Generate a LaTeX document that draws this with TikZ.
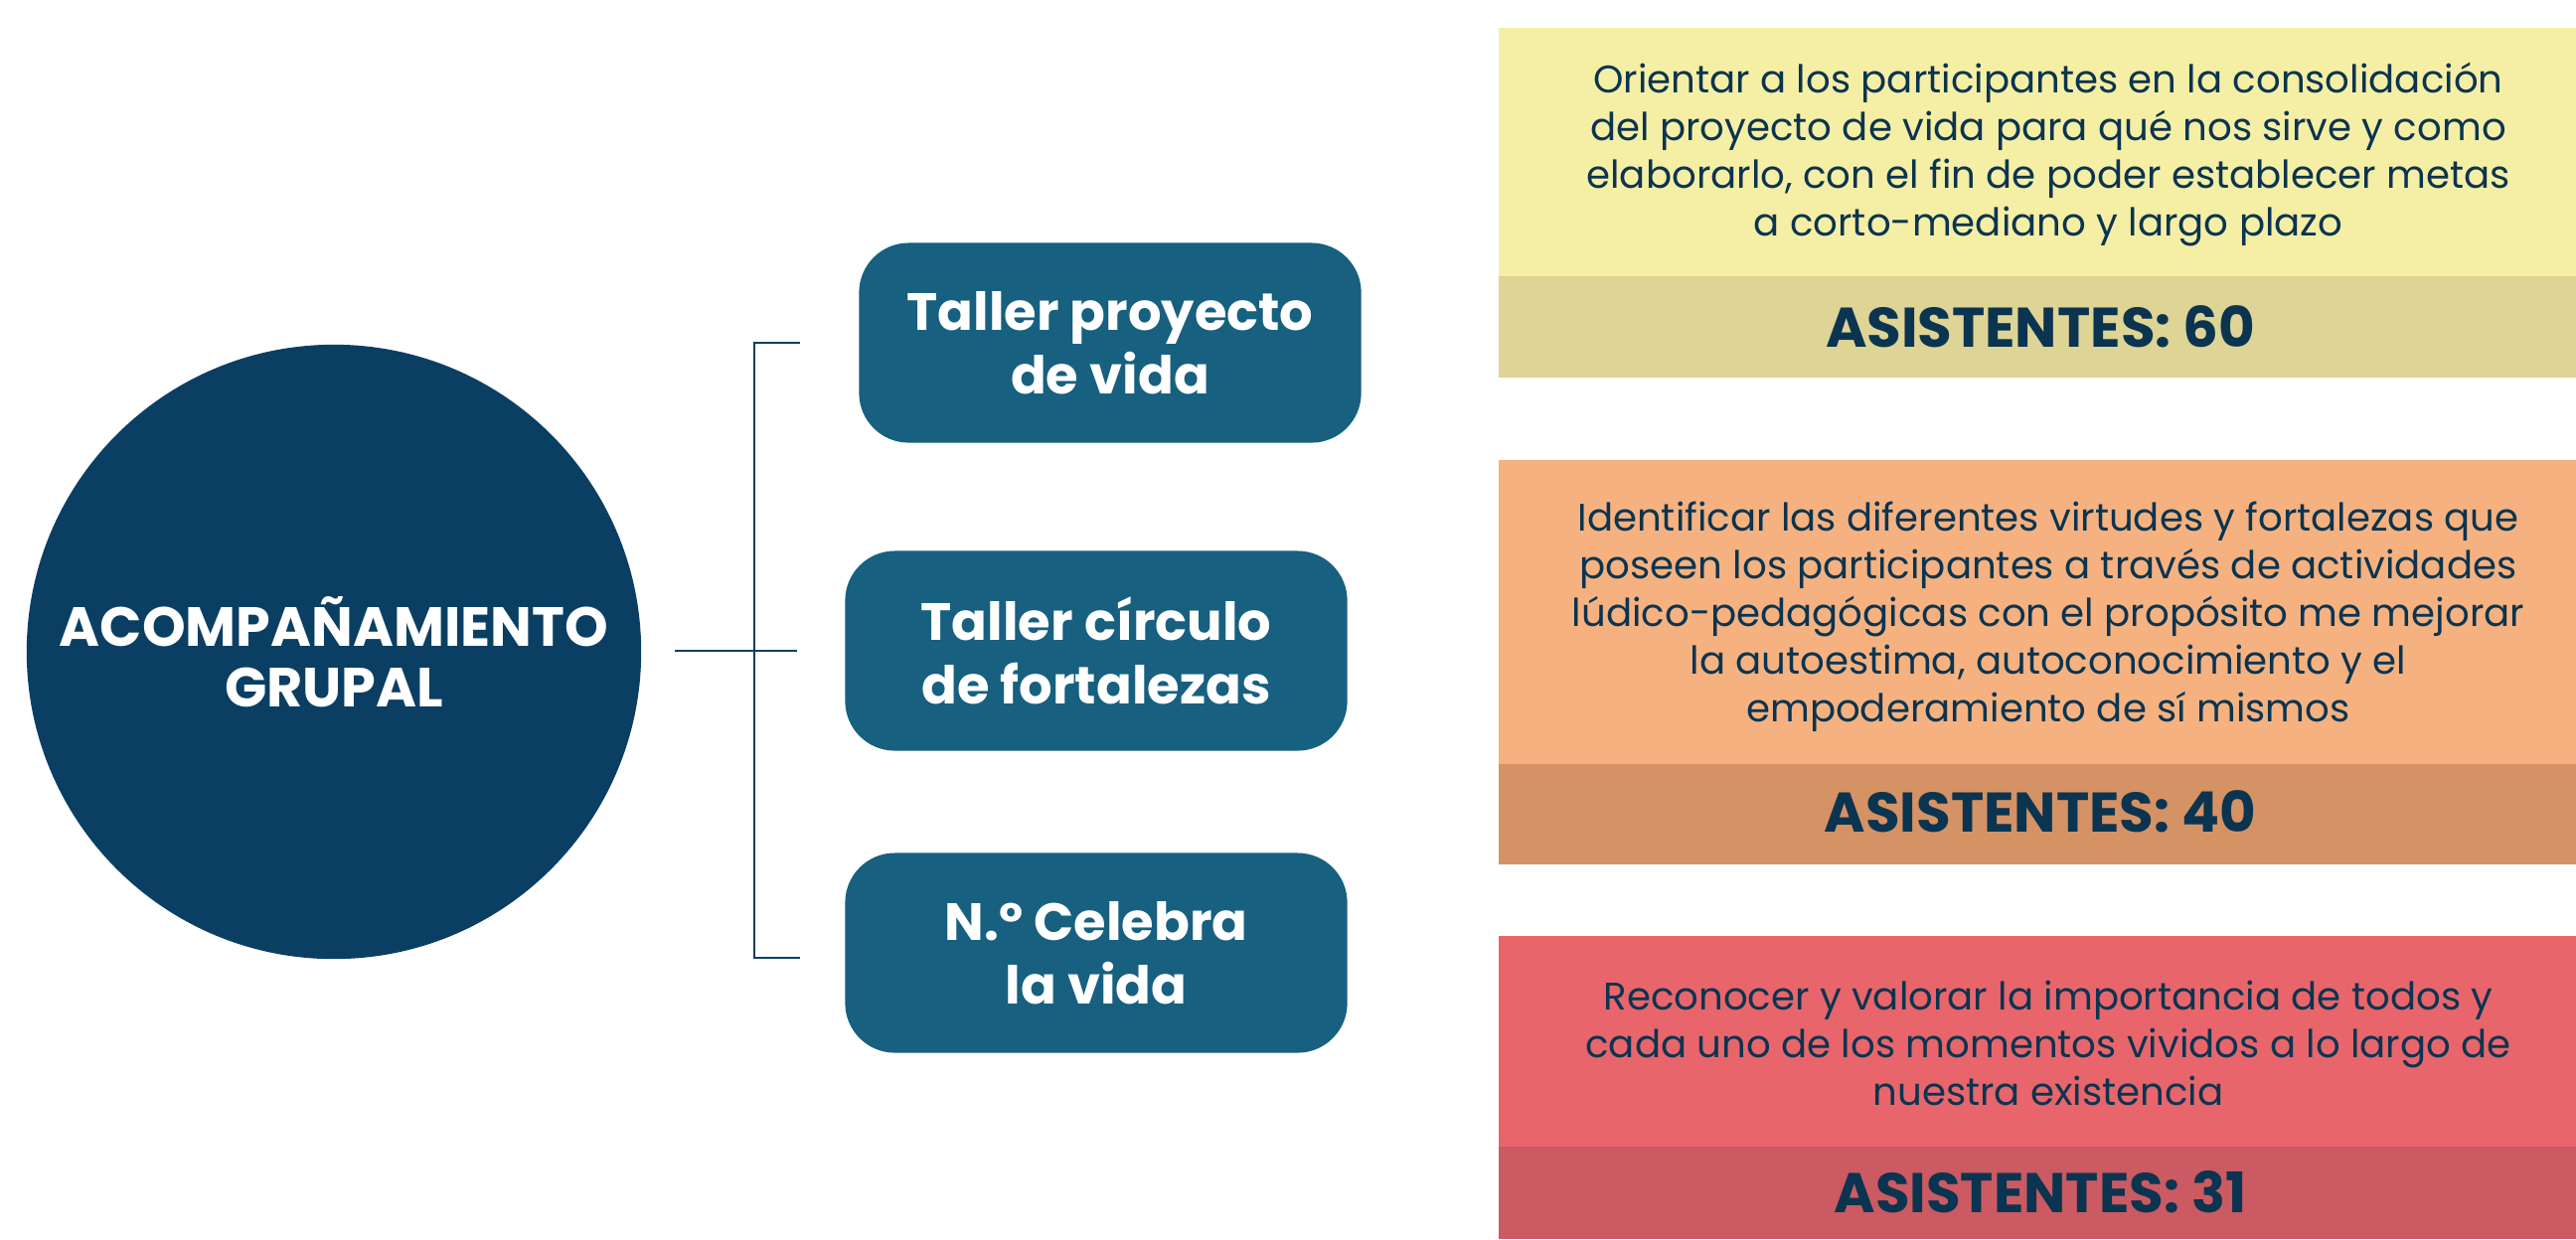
\documentclass[tikz,border=0pt]{standalone}
\usepackage{fontspec}
\setmainfont{Poppins}
\usepackage{tikz}
\usetikzlibrary{calc}
\definecolor{navy}{HTML}{0A3F63}
\definecolor{boxblue}{HTML}{17607F}
\definecolor{inktext}{HTML}{0B3450}
\definecolor{yellowA}{HTML}{F5EFA5}
\definecolor{yellowB}{HTML}{DDD495}
\definecolor{orangeA}{HTML}{F5B280}
\definecolor{orangeB}{HTML}{D59265}
\definecolor{redA}{HTML}{E8666B}
\definecolor{redB}{HTML}{CB5A62}
\tikzset{
  hub/.style={circle, fill=navy, minimum size=6.18cm, inner sep=0pt, text=white,
    align=center, font=\bfseries\fontsize{15.8}{17.4}\selectfont},
  taller/.style={rounded corners=0.5cm, fill=boxblue, minimum width=5.05cm,
    minimum height=2.01cm, text=white, align=center,
    font=\bfseries\fontsize{15}{18.2}\selectfont},
  goal/.style={text=inktext, align=center, font=\fontsize{11}{13.66}\selectfont},
  count/.style={text=inktext, font=\bfseries\fontsize{16}{19}\selectfont},
  bracket/.style={draw=navy, line width=0.6pt}
}
\begin{document}
\begin{tikzpicture}[x=0.01cm, y=-0.01cm]
    \useasboundingbox (0,0) rectangle (2592,1247);
    \node[hub] (hub) at (336,656) {ACOMPAÑAMIENTO\\GRUPAL};
    \node[taller] (t1) at (1117,345) {Taller proyecto\\de vida};
    \node[taller] (t2) at (1103,655) {Taller círculo\\de fortalezas};
    \node[taller] (t3) at (1103,959) {N.º Celebra\\la vida};
    \coordinate (bin) at (679,655);
    \coordinate (bmid) at (802,655);
    \coordinate (btop) at (759,345);
    \coordinate (bbot) at (759,964);
    \draw[bracket] (bin) -- (bmid);
    \draw[bracket] ($(btop)+(46,0)$) -- (btop) -- (bbot) -- ($(bbot)+(46,0)$);
    \fill[yellowA] (1508,28) rectangle (2592,278);
    \fill[yellowB] (1508,278) rectangle (2592,380);
    \fill[orangeA] (1508,463) rectangle (2592,769);
    \fill[orangeB] (1508,769) rectangle (2592,870);
    \fill[redA] (1508,942) rectangle (2592,1154);
    \fill[redB] (1508,1154) rectangle (2592,1247);
    \node[goal] (g1) at (2061,155) {Orientar a los participantes en la consolidación\\del proyecto de vida para qué nos sirve y como\\elaborarlo, con el fin de poder establecer metas\\a corto-mediano y largo plazo};
    \node[count] (c1) at (2053,329) {ASISTENTES: 60};
    \node[goal] (g2) at (2061,621) {Identificar las diferentes virtudes y fortalezas que\\poseen los participantes a través de actividades\\lúdico-pedagógicas con el propósito me mejorar\\la autoestima, autoconocimiento y el\\empoderamiento de sí mismos};
    \node[count] (c2) at (2053,817) {ASISTENTES: 40};
    \node[goal] (g3) at (2061,1050) {Reconocer y valorar la importancia de todos y\\cada uno de los momentos vividos a lo largo de\\nuestra existencia};
    \node[count] (c3) at (2053,1200) {ASISTENTES: 31};
\end{tikzpicture}
\end{document}
